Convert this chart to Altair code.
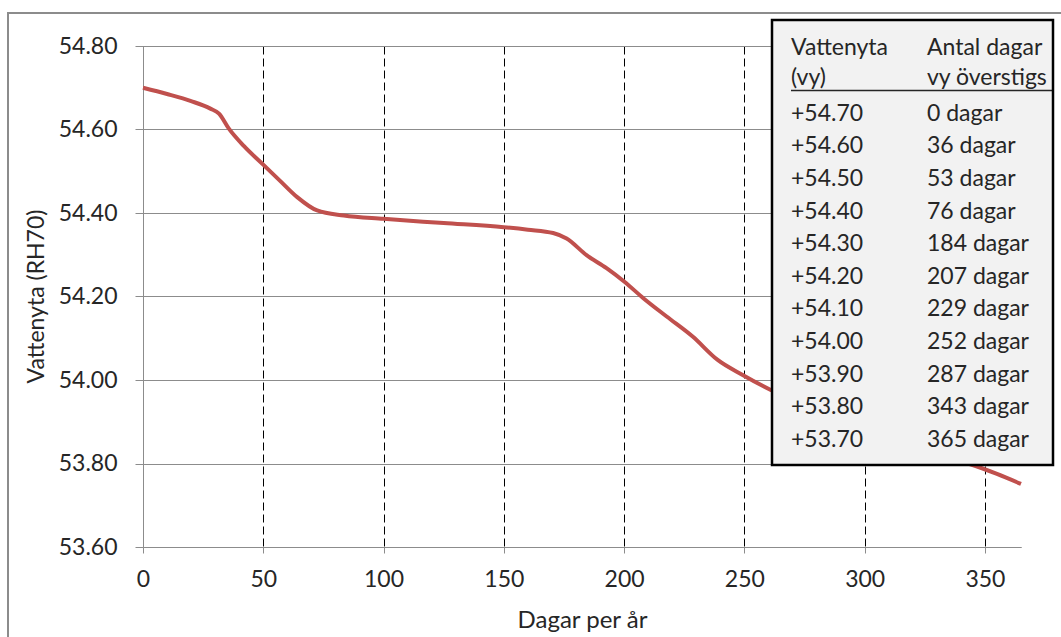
import altair as alt
import pandas as pd

# Curve
days = [0, 10, 20, 28, 31.6, 35.7, 42, 50.3, 57, 64.1, 72.4, 83.5, 100, 125, 150, 160,
        170.5, 176.1, 184.4, 192.7, 200, 208, 217.7, 228.5, 238.9, 249.3, 261,
        275, 287, 300, 315, 330, 343, 355, 365]
levels = [54.700, 54.685, 54.668, 54.650, 54.638, 54.602, 54.560, 54.514, 54.477, 54.438,
          54.406, 54.394, 54.386, 54.376, 54.366, 54.360,
          54.352, 54.339, 54.299, 54.268, 54.236, 54.196, 54.152, 54.104, 54.048, 54.012, 53.976,
          53.940, 53.905, 53.875, 53.845, 53.820, 53.800, 53.775, 53.751]

# Table in the overlay box
tab_levels = ["+54.70", "+54.60", "+54.50", "+54.40", "+54.30", "+54.20",
              "+54.10", "+54.00", "+53.90", "+53.80", "+53.70"]
tab_days = [0, 36, 53, 76, 184, 207, 229, 252, 287, 343, 365]

x_ticks = [0, 50, 100, 150, 200, 250, 300, 350]
y_ticks = [53.6, 53.8, 54.0, 54.2, 54.4, 54.6, 54.8]

FONT = "Lato"
TXT = "#262626"
FS = 23

curve = pd.DataFrame({"day": days, "level": levels})
table = pd.DataFrame({
    "row": list(range(len(tab_levels))),
    "lvl": tab_levels,
    "dd": [f"{d} dagar" for d in tab_days],
})

line = alt.Chart(curve).mark_line(color="#C0504D", strokeWidth=4, interpolate="monotone").encode(
    x=alt.X("day:Q", scale=alt.Scale(domain=[0, 365], nice=False, zero=False),
            axis=alt.Axis(values=x_ticks, title="Dagar per år", grid=True, labelFlush=False,
                          gridColor="#000000", gridDash=[8, 4], gridWidth=1,
                          domainColor="#8c8c8c", tickColor="#8c8c8c", tickSize=6,
                          labelPadding=15, labelFont=FONT, labelFontSize=FS, labelColor=TXT,
                          titleFont=FONT, titleFontSize=24, titleFontWeight="normal", titleColor=TXT,
                          titleX=439, titleY=73, titleBaseline="middle", titleAlign="center")),
    y=alt.Y("level:Q", scale=alt.Scale(domain=[53.6, 54.8], nice=False, zero=False),
            axis=alt.Axis(values=y_ticks, format=".2f", title="Vattenyta (RH70)", grid=True,
                          gridColor="#8c8c8c", gridWidth=1,
                          domainColor="#8c8c8c", tickColor="#8c8c8c", tickSize=8,
                          labelPadding=18, labelFont=FONT, labelFontSize=FS, labelColor=TXT,
                          titleFont=FONT, titleFontSize=23, titleFontWeight="normal", titleColor=TXT,
                          titleX=-107, titleY=250, titleBaseline="middle", titleAlign="center")),
)

anchor = pd.DataFrame({"k": [0]})

frame = alt.Chart(anchor).mark_rect(fill=None, stroke="#8c8c8c", strokeWidth=2).encode(
    x=alt.value(-135), x2=alt.value(940), y=alt.value(-33), y2=alt.value(610))

box = alt.Chart(anchor).mark_rect(fill="#f2f2f2", stroke=None).encode(
    x=alt.value(629), x2=alt.value(910), y=alt.value(-26), y2=alt.value(419))

header_rule = alt.Chart(anchor).mark_rule(color="#262626", strokeWidth=1.5).encode(
    x=alt.value(648), x2=alt.value(910), y=alt.value(44.5))

head_font = dict(font=FONT, fontSize=FS, color=TXT, align="left", baseline="alphabetic")
h1 = alt.Chart(anchor).mark_text(text="Vattenyta", **head_font).encode(x=alt.value(648), y=alt.value(9))
h2 = alt.Chart(anchor).mark_text(text="(vy)", **head_font).encode(x=alt.value(648), y=alt.value(39))
h3 = alt.Chart(anchor).mark_text(text="Antal dagar", **head_font).encode(x=alt.value(784), y=alt.value(9))
h4 = alt.Chart(anchor).mark_text(text="vy överstigs", **head_font).encode(x=alt.value(784), y=alt.value(39))

row_scale = alt.Scale(type="point", range=[74.7, 400.7], padding=0)
col1 = alt.Chart(table).mark_text(**head_font).encode(
    x=alt.value(648), y=alt.Y("row:O", scale=row_scale, axis=None), text="lvl:N")
col2 = alt.Chart(table).mark_text(**head_font).encode(
    x=alt.value(784), y=alt.Y("row:O", scale=row_scale, axis=None), text="dd:N")

cover = alt.Chart(anchor).mark_rect(fill="white", stroke=None).encode(
    x=alt.value(911), x2=alt.value(930), y=alt.value(-26), y2=alt.value(419))

box_border = alt.Chart(anchor).mark_rect(fill=None, stroke="#000000", strokeWidth=2.5).encode(
    x=alt.value(629), x2=alt.value(910), y=alt.value(-26), y2=alt.value(419))

chart = alt.layer(
    frame, line, box, header_rule, h1, h2, h3, h4, col1, col2, cover, box_border
).resolve_scale(y="independent").properties(
    width=878, height=501,
    autosize=alt.AutoSizeParams(type="none"),
    padding={"left": 143, "top": 46, "right": 40, "bottom": 90},
    background="white",
).configure_view(stroke=None)

chart.save("out.html", embed_options={"renderer": "svg", "actions": False})
